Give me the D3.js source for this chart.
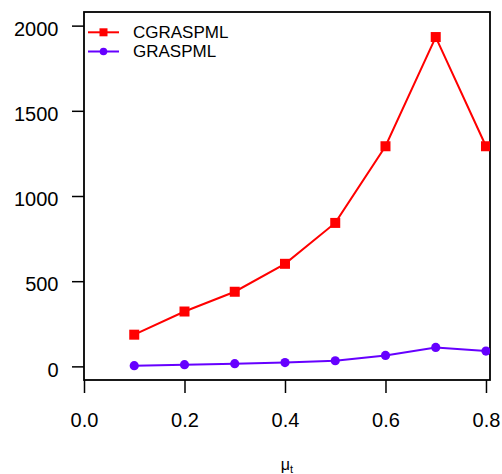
<!DOCTYPE html>
<html>
<head>
<meta charset="utf-8">
<script src="https://cdn.jsdelivr.net/npm/d3@7"></script>
<style>
  html, body { margin: 0; padding: 0; background: #fff; }
  svg { display: block; font-family: "Liberation Sans", Arial, sans-serif; }
</style>
</head>
<body>
<svg id="chart" width="502" height="474"></svg>
<script>
const xValues = [0.1, 0.2, 0.3, 0.4, 0.5, 0.6, 0.7, 0.8];
const cgraspml = [186, 322, 438, 602, 842, 1292, 1933, 1292];
const graspml = [4, 10, 16, 22, 33, 64, 111, 90];
const xTicks = [0.0, 0.2, 0.4, 0.6, 0.8];
const yTicks = [0, 500, 1000, 1500, 2000];
const seriesNames = ["CGRASPML", "GRASPML"];
const seriesColors = ["#ff0000", "#6600ff"];

const svg = d3.select("#chart");
const L = 84, R = 490, T = 12, B = 380;

const x = d3.scaleLinear().domain([0, 0.808]).range([L, R]);
const y = d3.scaleLinear().domain([-80, 2080]).range([B, T]);

svg.append("defs").append("clipPath").attr("id", "clip")
  .append("rect").attr("x", L).attr("y", T).attr("width", R - L).attr("height", B - T);

// axes
const xAxis = d3.axisBottom(x).tickValues(xTicks).tickFormat(d3.format(".1f")).tickSize(13).tickSizeOuter(0);
const gx = svg.append("g").attr("transform", `translate(0,${B})`).call(xAxis);
gx.select(".domain").remove();
gx.selectAll("line").attr("stroke", "#000").attr("stroke-width", 1.5);
gx.selectAll("text").attr("font-size", 20).attr("fill", "#000").attr("y", 0).attr("dy", null)
  .attr("transform", "translate(0,46.7)").style("font-family", "Liberation Sans, Arial, sans-serif");

const yAxis = d3.axisLeft(y).tickValues(yTicks).tickFormat(d3.format("d")).tickSize(12).tickSizeOuter(0);
const gy = svg.append("g").attr("transform", `translate(${L},0)`).call(yAxis);
gy.select(".domain").remove();
gy.selectAll("line").attr("stroke", "#000").attr("stroke-width", 1.5);
gy.selectAll("text").attr("font-size", 20).attr("fill", "#000").attr("x", -25.5).attr("dy", null)
  .attr("y", 9.7).style("font-family", "Liberation Sans, Arial, sans-serif");

// box
svg.append("rect").attr("x", L).attr("y", T).attr("width", R - L).attr("height", B - T)
  .attr("fill", "none").attr("stroke", "#000").attr("stroke-width", 1.8);

const plot = svg.append("g").attr("clip-path", "url(#clip)");
const line = d3.line().x((d, i) => x(xValues[i])).y(d => y(d));

// GRASPML
plot.append("path").datum(graspml).attr("d", line).attr("fill", "none")
  .attr("stroke", seriesColors[1]).attr("stroke-width", 2);
plot.selectAll("circle.g").data(graspml).enter().append("circle")
  .attr("cx", (d, i) => x(xValues[i])).attr("cy", d => y(d)).attr("r", 4.6)
  .attr("fill", seriesColors[1]);

// CGRASPML
plot.append("path").datum(cgraspml).attr("d", line).attr("fill", "none")
  .attr("stroke", seriesColors[0]).attr("stroke-width", 2);
const sq = 10;
plot.selectAll("rect.c").data(cgraspml).enter().append("rect")
  .attr("x", (d, i) => x(xValues[i]) - sq / 2).attr("y", d => y(d) - sq / 2)
  .attr("width", sq).attr("height", sq).attr("fill", seriesColors[0]);

// legend
const leg = svg.append("g");
const legY = [32.3, 51.5];
seriesNames.forEach((name, i) => {
  leg.append("line").attr("x1", 88).attr("x2", 119).attr("y1", legY[i]).attr("y2", legY[i])
    .attr("stroke", seriesColors[i]).attr("stroke-width", 2);
  if (i === 0) {
    leg.append("rect").attr("x", 103.5 - 4).attr("y", legY[i] - 4).attr("width", 8).attr("height", 8)
      .attr("fill", seriesColors[i]);
  } else {
    leg.append("circle").attr("cx", 103.5).attr("cy", legY[i]).attr("r", 3.8).attr("fill", seriesColors[i]);
  }
  leg.append("text").attr("x", 133).attr("y", legY[i] + 5.5).attr("font-size", 17)
    .attr("fill", "#000").text(name);
});

// x-axis title
const title = svg.append("text").attr("x", 287).attr("y", 470).attr("text-anchor", "middle")
  .attr("font-size", 16).attr("fill", "#000");
title.append("tspan").text("μ");
title.append("tspan").attr("font-size", 11).attr("dy", 3).text("t");
</script>
</body>
</html>
